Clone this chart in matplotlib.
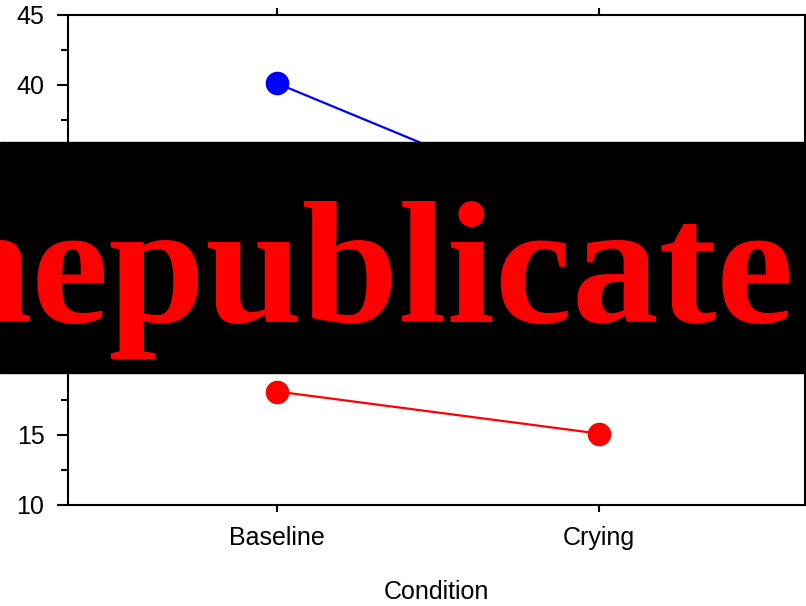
import matplotlib
matplotlib.use("Agg")
import matplotlib.pyplot as plt
from matplotlib.patches import Rectangle
from matplotlib.ticker import MultipleLocator
from matplotlib.font_manager import FontProperties

plt.rcParams['font.family'] = ['Liberation Sans', 'DejaVu Sans']

# mean scores per condition
conditions = ['Baseline', 'Crying']
group_a = [40.1, 30.6]   # blue series
group_b = [18.1, 15.1]   # red series

fig = plt.figure(figsize=(8.06, 6.06), dpi=100)
ax = fig.add_axes([68 / 806, 101 / 606, 736.5 / 806, 490.3 / 606])

x = range(len(conditions))
ax.plot(x, group_a, color='blue', lw=1.6, marker='o', ms=16, zorder=3)
ax.plot(x, group_b, color='red', lw=1.6, marker='o', ms=16, zorder=3)

ax.set_xlim(-0.65, 1.64)
ax.set_ylim(10, 45)
ax.set_xticks(list(x))
ax.set_xticklabels(conditions)
ax.yaxis.set_major_locator(MultipleLocator(5))
ax.yaxis.set_minor_locator(MultipleLocator(2.5))

for s in ax.spines.values():
    s.set_linewidth(1.5)
ax.tick_params(axis='x', which='major', direction='out', length=5, width=1.5,
               top=True, labelsize=18, pad=10)
ax.tick_params(axis='y', which='major', direction='out', length=8, width=1.5,
               right=True, labelsize=18, pad=9)
ax.tick_params(axis='y', which='minor', direction='out', length=5, width=1.5,
               right=True)
ax.set_xlabel('Condition', fontsize=18, labelpad=22)

# banner across the middle of the figure
fig.patches.append(Rectangle((0, 1 - 372.7 / 606), 1, 231 / 606,
                             transform=fig.transFigure, color='black', zorder=10))
banner_font = FontProperties(family='Liberation Serif', weight='bold', size=125)
fig.text(-64.5 / 806, 1 - 321.7 / 606, 'hepublicate', color='red',
         fontproperties=banner_font, ha='left', va='baseline', zorder=11)

fig.savefig('out.png', dpi=100)
